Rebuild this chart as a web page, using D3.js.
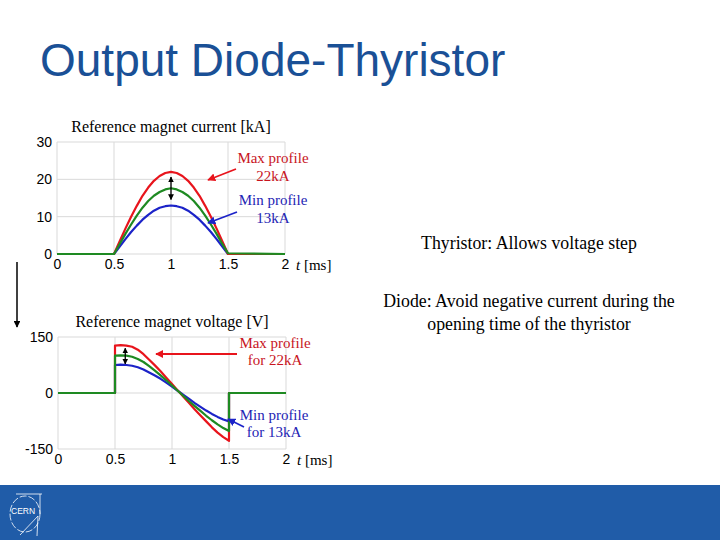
<!DOCTYPE html>
<html>
<head>
<meta charset="utf-8">
<script src="https://cdn.jsdelivr.net/npm/d3@7"></script>
<style>
  html, body { margin: 0; padding: 0; background: #ffffff; }
  svg { display: block; }
</style>
</head>
<body>
<svg id="slide" width="720" height="540"></svg>
<script>
// ---------- data ----------
const slideTitle = "Output Diode-Thyristor";
const xTicks = [0, 0.5, 1, 1.5, 2];
const xTickLabels = ["0", "0.5", "1", "1.5", "2"];
const curTicks = [0, 10, 20, 30];
const curTickLabels = ["0", "10", "20", "30"];
const voltTicks = [-150, 0, 150];
const voltTickLabels = ["-150", "0", "150"];

// Reference magnet current [kA]
const tCur = [0, 0.5, 0.55, 0.6, 0.65, 0.7, 0.75, 0.8, 0.85, 0.9, 0.95, 1.0,
              1.05, 1.1, 1.15, 1.2, 1.25, 1.3, 1.35, 1.4, 1.45, 1.5, 2];
const curMax = [0, 0, 3.4, 6.8, 10.0, 12.9, 15.6, 17.8, 19.6, 20.9, 21.7, 22.0,
                21.7, 20.9, 19.6, 17.8, 15.6, 12.9, 10.0, 6.8, 3.4, 0, 0];
const curMid = [0, 0, 2.7, 5.4, 7.9, 10.3, 12.4, 14.2, 15.6, 16.6, 17.3, 17.6,
                17.3, 16.6, 15.6, 14.2, 12.4, 10.3, 7.9, 5.4, 2.7, 0.2, 0];
const curMin = [0, 0, 2.0, 4.0, 5.9, 7.6, 9.2, 10.5, 11.6, 12.4, 12.8, 13.0,
                12.8, 12.4, 11.6, 10.5, 9.2, 7.6, 5.9, 4.0, 2.0, 0, 0];

// Reference magnet voltage [V]
const tVolt = [0, 0.5, 0.5, 0.55, 0.6, 0.65, 0.7, 0.75, 0.8, 0.85, 0.9, 0.95, 1.0,
               1.05, 1.1, 1.15, 1.2, 1.25, 1.3, 1.35, 1.4, 1.45, 1.5, 1.5, 2];
const voltMax = [0, 0, 127, 128, 127, 124, 116, 104, 89, 74, 58, 41, 24,
                 7, -10, -27, -44, -60, -76, -92, -106, -118, -128, 0, 0];
const voltMid = [0, 0, 100, 101, 100, 97, 91, 83, 72, 60, 47, 34, 20,
                 6, -8, -22, -35, -48, -61, -73, -84, -94, -102, 0, 0];
const voltMin = [0, 0, 75, 76, 75, 73, 69, 63, 55, 47, 38, 28, 17,
                 6, -5, -16, -27, -37, -47, -56, -64, -71, -76, 0, 0];

const rightTexts = [
  ["Thyristor: Allows voltage step"],
  ["Diode: Avoid negative current during the", "opening time of the thyristor"]
];

// ---------- styles ----------
const RED = "#e8141c", GREEN = "#1e8a22", BLUE = "#1c23c8";
const RED_TXT = "#c8141e", BLUE_TXT = "#2424b4";
const GRID = "#d9d9d9";
const SERIF = "'Liberation Serif', 'Times New Roman', serif";
const SANS = "'Liberation Sans', Arial, sans-serif";

const svg = d3.select("#slide");

const defs = svg.append("defs");
function marker(id, color) {
  defs.append("marker").attr("id", id).attr("viewBox", "0 0 10 10")
    .attr("refX", 9).attr("refY", 5).attr("markerWidth", 4.5).attr("markerHeight", 4.5)
    .attr("orient", "auto-start-reverse")
    .append("path").attr("d", "M0,0 L10,5 L0,10 z").attr("fill", color);
}
marker("arR", RED); marker("arB", BLUE); marker("arK", "#000");

// Title
svg.append("text").attr("x", 40).attr("y", 76)
  .attr("font-family", SANS).attr("font-size", 46).attr("fill", "#1a5096")
  .text(slideTitle);

// ---------- chart builder ----------
function chart(opts) {
  const g = svg.append("g");
  const x = d3.scaleLinear().domain([0, 2]).range([opts.x0, opts.x1]);
  const y = d3.scaleLinear().domain(opts.yDomain).range([opts.yb, opts.yt]);

  // grid
  g.selectAll(".gx").data(xTicks).join("line")
    .attr("x1", d => x(d)).attr("x2", d => x(d))
    .attr("y1", opts.yt).attr("y2", opts.yb)
    .attr("stroke", GRID).attr("stroke-width", 1);
  g.selectAll(".gy").data(opts.yTicks).join("line")
    .attr("x1", opts.x0).attr("x2", opts.x1)
    .attr("y1", d => y(d)).attr("y2", d => y(d))
    .attr("stroke", GRID).attr("stroke-width", 1);

  // axes via d3
  const xAxis = d3.axisBottom(x).tickValues(xTicks)
    .tickFormat((d, i) => xTickLabels[i]).tickSize(0).tickPadding(5);
  const gx = g.append("g").attr("transform", `translate(0,${opts.yb})`).call(xAxis);
  gx.select(".domain").remove();
  gx.selectAll("text").attr("font-family", SANS).attr("font-size", 14).attr("fill", "#000");

  const yAxis = d3.axisLeft(y).tickValues(opts.yTicks)
    .tickFormat((d, i) => opts.yLabels[i]).tickSize(0).tickPadding(5);
  const gy = g.append("g").attr("transform", `translate(${opts.x0},0)`).call(yAxis);
  gy.select(".domain").remove();
  gy.selectAll("text").attr("font-family", SANS).attr("font-size", 14).attr("fill", "#000");

  // t [ms]
  const tl = g.append("text").attr("x", x(2) + 11).attr("y", opts.yb + 16)
    .attr("font-family", SERIF).attr("font-size", 15).attr("fill", "#000");
  tl.append("tspan").attr("font-style", "italic").text("t");
  tl.append("tspan").text(" [ms]");

  // chart title
  g.append("text").attr("x", x(1)).attr("y", opts.yt - 10)
    .attr("text-anchor", "middle").attr("font-family", SERIF).attr("font-size", 16)
    .attr("fill", "#000").text(opts.title);

  // lines
  const line = d3.line().x(d => x(d[0])).y(d => y(d[1]));
  opts.series.forEach(s => {
    const pts = opts.t.map((tv, i) => [tv, s.v[i]]);
    g.append("path").attr("d", line(pts)).attr("fill", "none")
      .attr("stroke", s.c).attr("stroke-width", 2.2).attr("stroke-linejoin", "round");
  });
  return { g, x, y };
}

// ---------- current chart ----------
const c1 = chart({
  x0: 57, x1: 285, yt: 142, yb: 254, yDomain: [0, 30], yTicks: curTicks, yLabels: curTickLabels,
  title: "Reference magnet current [kA]", t: tCur,
  series: [{ v: curMin, c: BLUE }, { v: curMax, c: RED }, { v: curMid, c: GREEN }]
});
c1.g.append("line").attr("x1", c1.x(1)).attr("x2", c1.x(1))
  .attr("y1", c1.y(20.6)).attr("y2", c1.y(14.6))
  .attr("stroke", "#000").attr("stroke-width", 1.3)
  .attr("marker-start", "url(#arK)").attr("marker-end", "url(#arK)");
function label(g, lines, cx, y0, color, dy) {
  const t = g.append("text").attr("font-family", SERIF).attr("font-size", 15)
    .attr("fill", color).attr("text-anchor", "middle");
  lines.forEach((l, i) => t.append("tspan").attr("x", cx).attr("y", y0 + i * dy).text(l));
}
label(c1.g, ["Max profile", "22kA"], 273, 163, RED_TXT, 18);
label(c1.g, ["Min profile", "13kA"], 273, 205, BLUE_TXT, 18);
c1.g.append("line").attr("x1", 236).attr("y1", 169).attr("x2", 208).attr("y2", 180)
  .attr("stroke", RED).attr("stroke-width", 1.8).attr("marker-end", "url(#arR)");
c1.g.append("line").attr("x1", 237).attr("y1", 212).attr("x2", 208).attr("y2", 223)
  .attr("stroke", BLUE).attr("stroke-width", 1.8).attr("marker-end", "url(#arB)");

// ---------- voltage chart ----------
const c2 = chart({
  x0: 58, x1: 286, yt: 337, yb: 449, yDomain: [-150, 150], yTicks: voltTicks, yLabels: voltTickLabels,
  title: "Reference magnet voltage [V]", t: tVolt,
  series: [{ v: voltMin, c: BLUE }, { v: voltMax, c: RED }, { v: voltMid, c: GREEN }]
});
c2.g.append("line").attr("x1", c2.x(0.59)).attr("x2", c2.x(0.59))
  .attr("y1", c2.y(120)).attr("y2", c2.y(78))
  .attr("stroke", "#000").attr("stroke-width", 1.3)
  .attr("marker-start", "url(#arK)").attr("marker-end", "url(#arK)");
label(c2.g, ["Max profile", "for 22kA"], 275, 348, RED_TXT, 17);
label(c2.g, ["Min profile", "for 13kA"], 274, 420, BLUE_TXT, 17);
c2.g.append("line").attr("x1", 237).attr("y1", 354).attr("x2", 156).attr("y2", 354)
  .attr("stroke", RED).attr("stroke-width", 1.8).attr("marker-end", "url(#arR)");
c2.g.append("line").attr("x1", 244).attr("y1", 427).attr("x2", 228).attr("y2", 419)
  .attr("stroke", BLUE).attr("stroke-width", 1.8).attr("marker-end", "url(#arB)");

// left vertical arrow
svg.append("line").attr("x1", 17).attr("x2", 17).attr("y1", 262).attr("y2", 327)
  .attr("stroke", "#000").attr("stroke-width", 1.5).attr("marker-end", "url(#arK)");

// right texts
const rt = svg.append("g").attr("font-family", SERIF).attr("font-size", 17.8)
  .attr("fill", "#000").attr("text-anchor", "middle");
rt.append("text").attr("x", 529).attr("y", 249).text(rightTexts[0][0]);
rightTexts[1].forEach((l, i) =>
  rt.append("text").attr("x", 529).attr("y", 307 + i * 23.4).text(l));

// footer
svg.append("rect").attr("x", 0).attr("y", 485).attr("width", 720).attr("height", 55)
  .attr("fill", "#205ca8");
const logo = svg.append("g").attr("stroke", "#ffffff").attr("fill", "none").attr("stroke-width", 0.8);
logo.append("ellipse").attr("cx", 25).attr("cy", 514).attr("rx", 15).attr("ry", 18)
  .attr("stroke-dasharray", "7,2");
logo.append("line").attr("x1", 16).attr("y1", 494).attr("x2", 42).attr("y2", 494);
logo.append("line").attr("x1", 40).attr("y1", 494).attr("x2", 40).attr("y2", 514);
logo.append("line").attr("x1", 20).attr("y1", 535).attr("x2", 38).attr("y2", 516);
logo.append("line").attr("x1", 38).attr("y1", 516).attr("x2", 37).attr("y2", 536);
svg.append("text").attr("x", 11).attr("y", 514).attr("font-family", SANS)
  .attr("font-size", 8.5).attr("fill", "#ffffff").text("CERN");
</script>
</body>
</html>
